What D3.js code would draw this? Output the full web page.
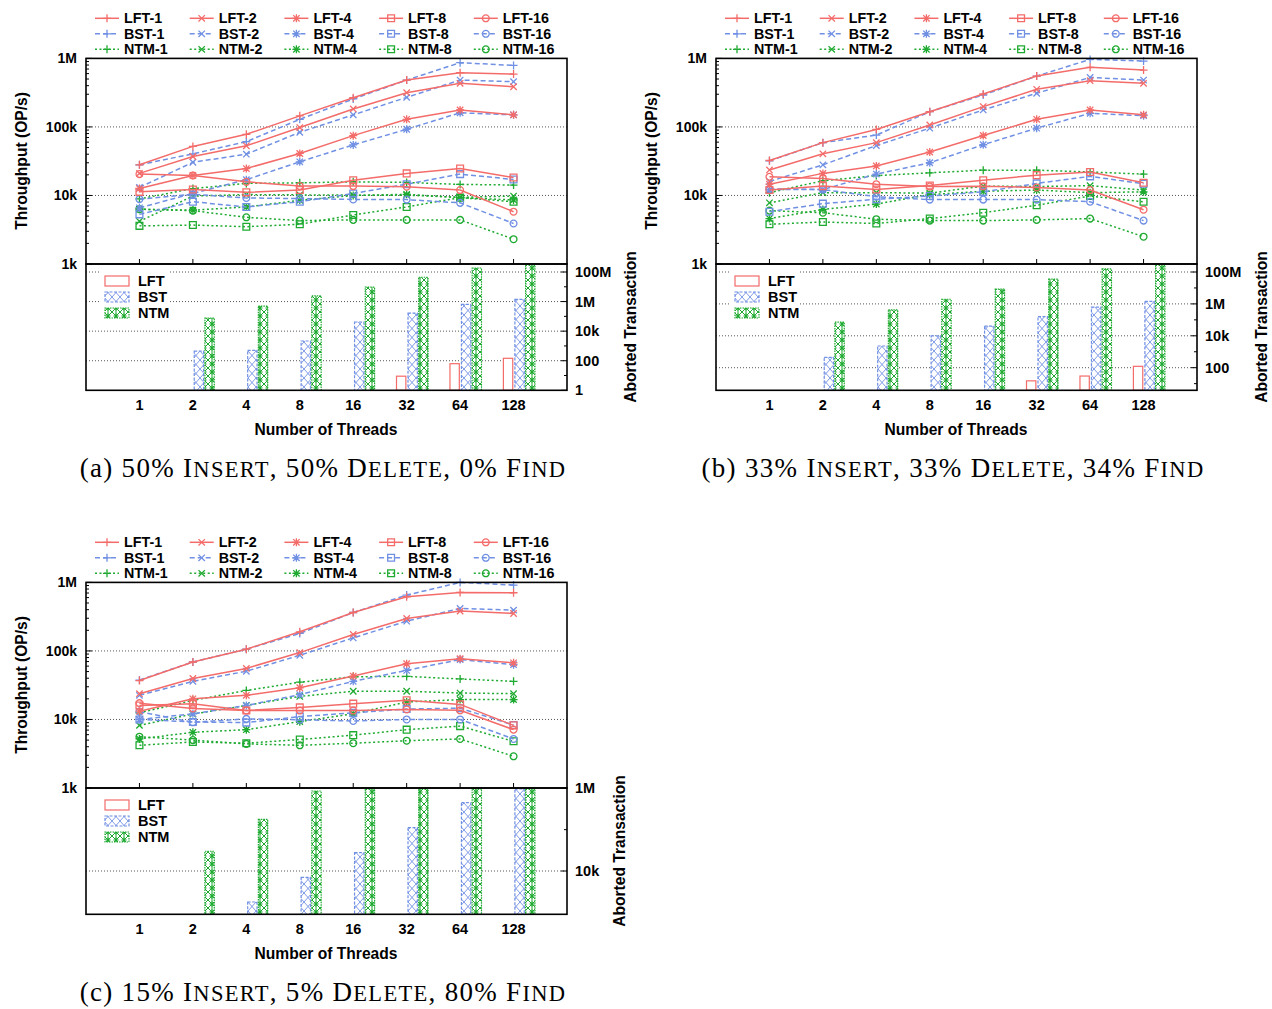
<!DOCTYPE html>
<html><head><meta charset="utf-8">
<script src="https://cdn.jsdelivr.net/npm/d3@7"></script>
<style>
body{margin:0;background:#fff;}
text{font-family:"Liberation Sans",Arial,sans-serif;font-weight:bold;fill:#000;}
.cap{font-family:"Liberation Serif","Times New Roman",serif;font-weight:normal;letter-spacing:1.3px;}
</style>
</head><body><script>
// ---------- categories ----------
const threads = ["1","2","4","8","16","32","64","128"];
const structures = ["LFT","BST","NTM"];
const keyRanges = [1,2,4,8,16];

// ---------- panel (a) throughput ----------
const a_LFT_1  = [28000, 52000, 78000, 145000, 267000, 483000, 618000, 590000];
const a_LFT_2  = [21000, 37000, 53000, 98000, 183000, 316000, 433000, 386000];
const a_LFT_4  = [12600, 19600, 24700, 41000, 74600, 129000, 177000, 150000];
const a_LFT_8  = [11300, 12200, 11100, 12000, 16700, 21000, 24700, 18300];
const a_LFT_16 = [20500, 19600, 15800, 13700, 13700, 13400, 12000, 5800];
const a_BST_1  = [28000, 40500, 61000, 129000, 256000, 483000, 865000, 790000];
const a_BST_2  = [13100, 30500, 40000, 83600, 150000, 270000, 483000, 457000];
const a_BST_4  = [6600, 10700, 17000, 31000, 54700, 92500, 161000, 150000];
const a_BST_8  = [5300, 8100, 6800, 8100, 10700, 14600, 20500, 17100];
const a_BST_16 = [8850, 10400, 9200, 9000, 8750, 8700, 7800, 3900];
const a_NTM_1  = [8900, 12600, 15000, 15300, 15800, 15500, 14500, 14200];
const a_NTM_2  = [4200, 9800, 10300, 10200, 10100, 10100, 9400, 9800];
const a_NTM_4  = [6300, 6100, 6800, 8500, 10000, 10400, 9300, 8600];
const a_NTM_8  = [3600, 3700, 3500, 3800, 5200, 6800, 9300, 8100];
const a_NTM_16 = [6300, 6000, 4800, 4300, 4400, 4400, 4400, 2300];
// panel (a) aborted transactions
const a_abort_LFT = [null, null, null, null, null, 9, 63, 146];
const a_abort_BST = [null, 440, 500, 2150, 41500, 168000, 650000, 1420000];
const a_abort_NTM = [null, 77000, 500000, 2400000, 9600000, 44000000, 186000000, 310000000];

// ---------- panel (b) throughput ----------
const b_LFT_1  = [32400, 59000, 92000, 167000, 303000, 553000, 740000, 676000];
const b_LFT_2  = [23600, 40500, 59000, 107000, 198000, 354000, 473000, 433000];
const b_LFT_4  = [14600, 21000, 27000, 43000, 75000, 129000, 177000, 150000];
const b_LFT_8  = [12000, 13700, 12200, 14000, 16700, 19800, 22000, 15300];
const b_LFT_16 = [18700, 17700, 14600, 13500, 13600, 13100, 12000, 6200];
const b_BST_1  = [32000, 59000, 76000, 167000, 292000, 553000, 967000, 915000];
const b_BST_2  = [16000, 28000, 53500, 96000, 177000, 310000, 528000, 483000];
const b_BST_4  = [12200, 12200, 20500, 30000, 55000, 96000, 158000, 146000];
const b_BST_8  = [5800, 7600, 8800, 9800, 11300, 15000, 19000, 14800];
const b_BST_16 = [12500, 12200, 9600, 8700, 8700, 8700, 8100, 4300];
const b_NTM_1  = [11000, 16400, 19500, 21400, 23400, 23400, 22000, 20500];
const b_NTM_2  = [7800, 11000, 11000, 10800, 13700, 13500, 13900, 12000];
const b_NTM_4  = [4600, 6250, 7500, 10300, 11500, 12000, 11000, 11300];
const b_NTM_8  = [3800, 4100, 3900, 4600, 5600, 7200, 9800, 8100];
const b_NTM_16 = [6000, 5600, 4500, 4300, 4300, 4400, 4600, 2500];
const b_abort_LFT = [null, null, null, null, null, 15, 30, 122];
const b_abort_BST = [null, 447, 2300, 10000, 41000, 158000, 635000, 1450000];
const b_abort_NTM = [null, 71000, 417000, 1950000, 8500000, 36000000, 155000000, 316000000];

// ---------- panel (c) throughput ----------
const c_LFT_1  = [37000, 69000, 106000, 190000, 364000, 617000, 714000, 706000];
const c_LFT_2  = [23800, 39600, 55600, 94600, 174000, 297000, 381000, 352000];
const c_LFT_4  = [13200, 20000, 22500, 29000, 43000, 65000, 77000, 67000];
const c_LFT_8  = [16000, 17000, 13500, 15000, 17000, 19000, 16600, 8200];
const c_LFT_16 = [17300, 14500, 13500, 13500, 13500, 14000, 13600, 7100];
const c_BST_1  = [37600, 69000, 106000, 180000, 364000, 653000, 1000000, 914000];
const c_BST_2  = [22500, 36000, 50500, 86500, 155000, 272000, 417000, 394000];
const c_BST_4  = [10000, 12100, 16000, 23000, 36000, 52000, 75000, 63000];
const c_BST_8  = [10000, 9200, 9000, 11000, 12500, 14200, 14600, 8300];
const c_BST_16 = [13000, 9100, 10200, 9900, 9500, 10000, 10000, 5200];
const c_NTM_1  = [12500, 19000, 26500, 35000, 42000, 42500, 39000, 36000];
const c_NTM_2  = [8200, 12000, 16000, 21700, 25800, 25800, 24300, 23800];
const c_NTM_4  = [5200, 6500, 7100, 9300, 12100, 18000, 19500, 19500];
const c_NTM_8  = [4200, 4700, 4500, 5100, 5900, 7100, 8000, 4800];
const c_NTM_16 = [5600, 5000, 4400, 4200, 4500, 4900, 5200, 2900];
const c_abort_LFT = [null, null, null, null, null, null, null, null];
const c_abort_BST = [null, null, 1780, 7000, 27700, 112000, 448000, 1200000];
const c_abort_NTM = [null, 30000, 178000, 860000, 2500000, 6000000, 15000000, 40000000];

// ---------- captions (words shown in small capitals are marked) ----------
const captionA = ["(a) 50% ", "INSERT", ", 50% ", "DELETE", ", 0% ", "FIND"];
const captionB = ["(b) 33% ", "INSERT", ", 33% ", "DELETE", ", 34% ", "FIND"];
const captionC = ["(c) 15% ", "INSERT", ", 5% ", "DELETE", ", 80% ", "FIND"];

// ---------- styles ----------
const colors = {LFT:"#f36c6a", BST:"#7090e4", NTM:"#1eaa30"};
const dashes = {LFT:null, BST:"5,3", NTM:"2,2.5"};

const fmt = v => v>=1e6 ? (v/1e6)+"M" : v>=1e3 ? (v/1e3)+"k" : String(v);

const panels = [
  {dx:0, dy:0, caption:captionA, capX:323,
   lines:{LFT:[a_LFT_1,a_LFT_2,a_LFT_4,a_LFT_8,a_LFT_16],BST:[a_BST_1,a_BST_2,a_BST_4,a_BST_8,a_BST_16],NTM:[a_NTM_1,a_NTM_2,a_NTM_4,a_NTM_8,a_NTM_16]},
   aborts:{LFT:a_abort_LFT,BST:a_abort_BST,NTM:a_abort_NTM},
   bDomain:[1,1e8], bRange:[390.3,272], bMajor:[1,100,1e4,1e6,1e8], bMinor:[10,1e3,1e5,1e7], bGrid:[100,1e4,1e6,1e8], rTitleX:631},
  {dx:630, dy:0, caption:captionB, capX:323,
   lines:{LFT:[b_LFT_1,b_LFT_2,b_LFT_4,b_LFT_8,b_LFT_16],BST:[b_BST_1,b_BST_2,b_BST_4,b_BST_8,b_BST_16],NTM:[b_NTM_1,b_NTM_2,b_NTM_4,b_NTM_8,b_NTM_16]},
   aborts:{LFT:b_abort_LFT,BST:b_abort_BST,NTM:b_abort_NTM},
   bDomain:[100,1e8], bRange:[367.7,272], bMajor:[100,1e4,1e6,1e8], bMinor:[10,1e3,1e5,1e7], bGrid:[100,1e4,1e6,1e8], rTitleX:632},
  {dx:0, dy:524, caption:captionC, capX:323,
   lines:{LFT:[c_LFT_1,c_LFT_2,c_LFT_4,c_LFT_8,c_LFT_16],BST:[c_BST_1,c_BST_2,c_BST_4,c_BST_8,c_BST_16],NTM:[c_NTM_1,c_NTM_2,c_NTM_4,c_NTM_8,c_NTM_16]},
   aborts:{LFT:c_abort_LFT,BST:c_abort_BST,NTM:c_abort_NTM},
   bDomain:[1e4,1e6], bRange:[347,264.3], bMajor:[1e4,1e6], bMinor:[1e5], bGrid:[1e4], rTitleX:620}
];

const W=1272, H=1009;
const svg = d3.select("body").append("svg").attr("width",W).attr("height",H);
const defs = svg.append("defs");

// patterns
const pB = defs.append("pattern").attr("id","patBST").attr("patternUnits","userSpaceOnUse").attr("width",8).attr("height",9);
pB.append("rect").attr("width",8).attr("height",9).attr("fill","#fff");
pB.append("path").attr("d","M0,0L8,9M8,0L0,9").attr("stroke",colors.BST).attr("stroke-width",0.9).attr("fill","none");
const pN = defs.append("pattern").attr("id","patNTM").attr("patternUnits","userSpaceOnUse").attr("width",8).attr("height",8);
pN.append("rect").attr("width",8).attr("height",8).attr("fill","#fff");
pN.append("path").attr("d","M0,0L8,8M8,0L0,8M4,0V8").attr("stroke",colors.NTM).attr("stroke-width",1).attr("fill","none");
pN.append("circle").attr("cx",4).attr("cy",4).attr("r",2).attr("stroke",colors.NTM).attr("stroke-width",0.9).attr("fill","none");
const fills = {LFT:"#fff", BST:"url(#patBST)", NTM:"url(#patNTM)"};
const barDash = {LFT:null, BST:"3,1.5", NTM:"1.5,1"};

function markerD(k, s){
  const d=s*0.8;
  const plus=`M${-s},0H${s}M0,${-s}V${s}`;
  const cross=`M${-d},${-d}L${d},${d}M${-d},${d}L${d},${-d}`;
  if(k===1) return plus;
  if(k===2) return cross;
  if(k===4) return plus+cross;
  if(k===8){const q=s*0.85;return `M${-q},${-q}H${q}V${q}H${-q}Z`;}
  const r=s*0.85; return `M${r},0A${r},${r} 0 1,1 ${-r},0A${r},${r} 0 1,1 ${r},0`;
}

const L=86, R=567, T=58.4, M=264, B=390.3;
const TITLE_FS = 15.6;

panels.forEach((p,pi)=>{
  const g = svg.append("g").attr("transform",`translate(${p.dx},${p.dy})`);
  const x = d3.scalePoint().domain(threads).range([L,R]).padding(1);
  const step = x.step();
  const y = d3.scaleLog().domain([1e3,1e6]).range([M,T]);
  const yb = d3.scaleLog().domain(p.bDomain).range(p.bRange);

  // ---- top grid ----
  [1e4,1e5].forEach(v=>{
    g.append("line").attr("x1",L).attr("x2",R).attr("y1",y(v)).attr("y2",y(v))
      .attr("stroke","#444").attr("stroke-width",0.9).attr("stroke-dasharray","1,2");
  });
  // ---- bottom grid ----
  p.bGrid.forEach(v=>{
    g.append("line").attr("x1",L).attr("x2",R).attr("y1",yb(v)).attr("y2",yb(v))
      .attr("stroke","#444").attr("stroke-width",0.9).attr("stroke-dasharray","1,2");
  });

  // ---- left axis ticks (top) ----
  const majors=[1e3,1e4,1e5,1e6];
  majors.forEach(v=>{
    g.append("line").attr("x1",L).attr("x2",L+6).attr("y1",y(v)).attr("y2",y(v)).attr("stroke","#000").attr("stroke-width",1);
    g.append("text").attr("x",77).attr("y",y(v)).attr("dy","0.35em").attr("text-anchor","end")
      .attr("font-size",14).text(fmt(v));
  });
  [1e3,1e4,1e5].forEach(dec=>{
    for(let k=2;k<10;k++){
      const v=dec*k;
      g.append("line").attr("x1",L).attr("x2",L+3).attr("y1",y(v)).attr("y2",y(v)).attr("stroke","#000").attr("stroke-width",1);
    }
  });
  threads.forEach(t=>{
    g.append("line").attr("x1",x(t)).attr("x2",x(t)).attr("y1",M).attr("y2",M-5).attr("stroke","#000").attr("stroke-width",1);
  });

  // ---- bars ----
  const bw = step*0.175;
  const offs = {LFT:-0.19, BST:0.025, NTM:0.225};
  structures.forEach(s=>{
    p.aborts[s].forEach((v,i)=>{
      if(v==null) return;
      const yt = Math.max(M+1, yb(v));
      g.append("rect").attr("x",x(threads[i])+offs[s]*step).attr("y",yt)
        .attr("width",bw).attr("height",B-yt)
        .attr("fill",fills[s]).attr("stroke",colors[s]).attr("stroke-width",1.2)
        .attr("stroke-dasharray",barDash[s]);
    });
  });

  // ---- right axis (bottom panel) ----
  p.bMajor.forEach(v=>{
    g.append("line").attr("x1",R).attr("x2",R-6).attr("y1",yb(v)).attr("y2",yb(v)).attr("stroke","#000").attr("stroke-width",1);
    g.append("text").attr("x",575).attr("y",yb(v)).attr("dy","0.35em").attr("font-size",14.5).text(fmt(v));
  });
  p.bMinor.forEach(v=>{
    const yy=yb(v); if(yy>B||yy<M) return;
    g.append("line").attr("x1",R).attr("x2",R-3).attr("y1",yy).attr("y2",yy).attr("stroke","#000").attr("stroke-width",1);
  });

  // ---- bar legend ----
  g.append("rect").attr("x",100).attr("y",270).attr("width",70).attr("height",51).attr("fill","#fff");
  structures.forEach((s,r)=>{
    const yy=281+r*16;
    g.append("rect").attr("x",105).attr("y",yy-5).attr("width",24).attr("height",10)
      .attr("fill",fills[s]).attr("stroke",colors[s]).attr("stroke-width",1.2).attr("stroke-dasharray",barDash[s]);
    g.append("text").attr("x",138).attr("y",yy).attr("dy","0.35em").attr("font-size",14.5).text(s);
  });

  // ---- lines ----
  const clipId="clip"+pi;
  defs.append("clipPath").attr("id",clipId).append("rect").attr("x",L).attr("y",T-6).attr("width",R-L).attr("height",M-T+6);
  const lg = g.append("g").attr("clip-path",`url(#${clipId})`);
  const line = d3.line().x((d,i)=>x(threads[i])).y(d=>y(d));
  ["NTM","BST","LFT"].forEach(s=>{
    p.lines[s].forEach((arr,k)=>{
      lg.append("path").attr("d",line(arr)).attr("fill","none").attr("stroke",colors[s])
        .attr("stroke-width",1.5).attr("stroke-dasharray",dashes[s]);
      arr.forEach((v,i)=>{
        lg.append("path").attr("transform",`translate(${x(threads[i])},${y(v)})`)
          .attr("d",markerD(keyRanges[k],4)).attr("fill","none").attr("stroke",colors[s]).attr("stroke-width",1.3);
      });
    });
  });

  // ---- frames ----
  g.append("rect").attr("x",L).attr("y",T).attr("width",R-L).attr("height",M-T).attr("fill","none").attr("stroke","#000").attr("stroke-width",1.6);
  g.append("rect").attr("x",L).attr("y",M).attr("width",R-L).attr("height",B-M).attr("fill","none").attr("stroke","#000").attr("stroke-width",1.6);

  // ---- x tick labels & titles ----
  threads.forEach(t=>{
    g.append("text").attr("x",x(t)).attr("y",405).attr("dy","0.35em").attr("text-anchor","middle").attr("font-size",14.5).text(t);
  });
  g.append("text").attr("x",326).attr("y",430).attr("dy","0.35em").attr("text-anchor","middle").attr("font-size",TITLE_FS).text("Number of Threads");
  g.append("text").attr("transform",`translate(22,161) rotate(-90)`).attr("dy","0.35em").attr("text-anchor","middle").attr("font-size",TITLE_FS).text("Throughput (OP/s)");
  g.append("text").attr("transform",`translate(${p.rTitleX},327) rotate(-90)`).attr("dy","0.35em").attr("text-anchor","middle").attr("font-size",TITLE_FS).text("Aborted Transaction");

  // ---- top key ----
  structures.forEach((s,r)=>{
    keyRanges.forEach((k,c)=>{
      const x0=95+c*94.7, yy=18.3+r*15.5;
      g.append("line").attr("x1",x0).attr("x2",x0+24).attr("y1",yy).attr("y2",yy)
        .attr("stroke",colors[s]).attr("stroke-width",1.5).attr("stroke-dasharray",dashes[s]);
      g.append("path").attr("transform",`translate(${x0+12},${yy})`).attr("d",markerD(k,4))
        .attr("fill","none").attr("stroke",colors[s]).attr("stroke-width",1.3);
      g.append("text").attr("x",x0+29).attr("y",yy).attr("dy","0.35em").attr("font-size",14.3).text(`${s}-${k}`);
    });
  });

  // ---- caption (small capitals: first letter full size, rest reduced) ----
  const cap = g.append("text").attr("class","cap").attr("x",p.capX).attr("y",477)
    .attr("text-anchor","middle").attr("font-size",27);
  p.caption.forEach((part,i)=>{
    if(i%2===1){
      cap.append("tspan").text(part[0]);
      cap.append("tspan").attr("font-size",22.5).text(part.slice(1));
    } else {
      cap.append("tspan").text(part);
    }
  });
});
</script></body></html>
